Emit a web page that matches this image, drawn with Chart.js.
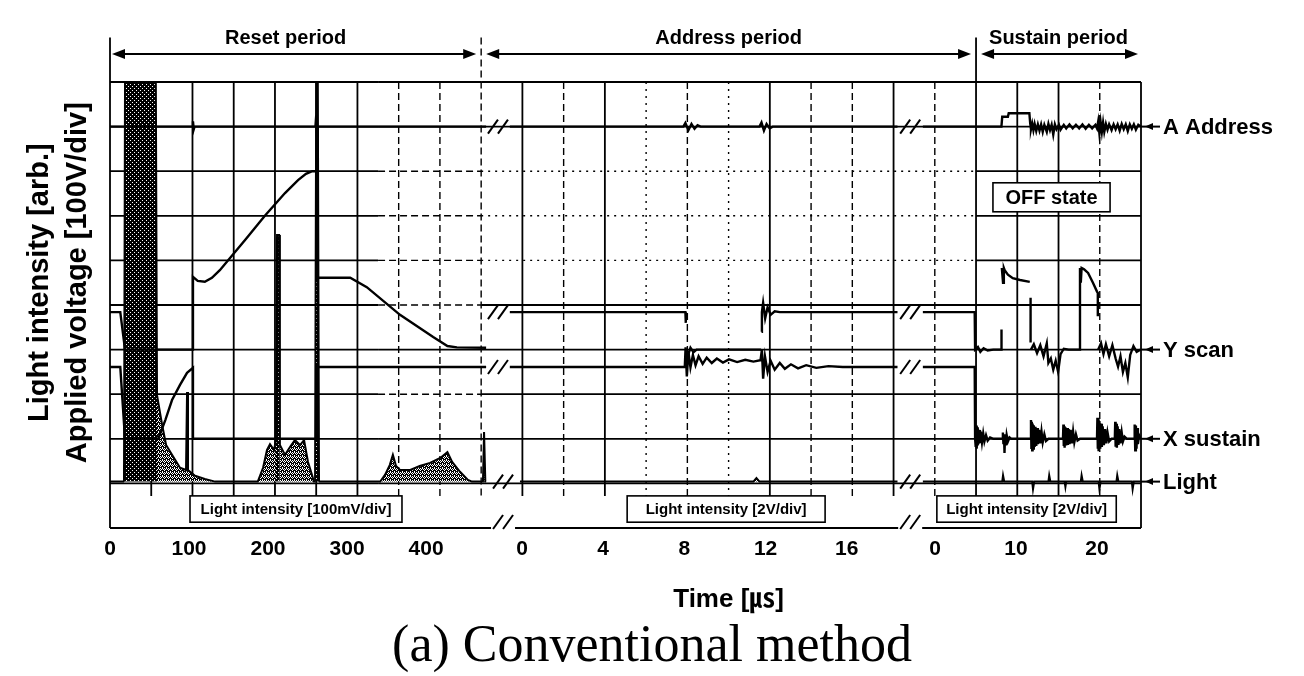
<!DOCTYPE html>
<html>
<head>
<meta charset="utf-8">
<title>(a) Conventional method</title>
<script src="https://cdn.jsdelivr.net/npm/chart.js@4.4.1/dist/chart.umd.min.js"></script>
<style>
html,body{margin:0;padding:0;background:#fff;}
#box{width:1304px;height:676px;position:relative;}
</style>
</head>
<body>
<div id="box"><canvas id="chart" width="1304" height="676"></canvas></div>
<script>
// ===================== DATA =====================
// Tick labels of the three time bases (µs)
const resetTicks   = [0, 100, 200, 300, 400];
const addressTicks = [0, 4, 8, 12, 16];
const sustainTicks = [0, 10, 20];

const traceNames  = ['A Address', 'Y scan', 'X sustain', 'Light'];
const periodNames = ['Reset period', 'Address period', 'Sustain period'];
const scaleNotes  = ['Light intensity [100mV/div]', 'Light intensity [2V/div]', 'Light intensity [2V/div]'];
const stateNote   = 'OFF state';

// Each series: [time µs, value]; electrode traces in volts, light in divisions.
// null = part of an edge the scope did not capture.
// ---- Reset period ----
const resetA = [[0,0],[104,0],[105,12],[106,-6],[107,0],[260,0],[261,25],[262,-20],[263,0],[476,0]];
const resetY = [[0,84],[13,84],[19,0],[105,0],[105,163],[111,154],[120,152],[129,161],[139,178],[149,199],
  [172,248],[196,300],[221.5,351],[238,380],[248,394],[256,400],[261,400],[261,161],[304,161],[325,140],
  [367,78],[409,28],[427,8],[439,5],[476,4]];
const resetX = [[0,161],[13,161],[19,0],[61,0],[70,42],[78.5,87],[88.6,121],[97.5,148],[105,159],[105,0],
  [261,0],[261,161],[476,161]];
const resetLight = [[0,0],[17.7,0],[19,8.96],[58,8.96],[59.5,1.94],[66,1.27],[71,0.82],[78.5,0.6],[88.6,0.31],
  [96.2,0.26],[97.5,2.01],[98.7,0.26],[107.6,0.13],[120,0.06],[133,0],[187,0],[193.7,0.31],[198.7,0.71],
  [202.5,0.84],[207.6,0.71],[210,0.93],[211.4,5.53],[214,5.53],[215,0.82],[221.5,0.6],[228,0.78],[234,0.93],
  [240.5,0.82],[245.6,0.93],[250.6,0.44],[255.7,0.15],[258,0],[259.5,0],[261,8.96],[263,8.96],[264.5,0],
  [342,0],[348,0.15],[354,0.37],[358,0.6],[362,0.35],[367,0.26],[380,0.26],[392,0.35],[405,0.42],[418,0.53],
  [427,0.66],[433,0.44],[443,0.22],[453,0.04],[458,0],[472,0],[473.4,1.11],[475,0],[476,0]];

// ---- Address period ----
const addrA = [[-0.6,0],[7.95,0],[8.05,8],[8.2,-8],[8.35,6],[8.5,-5],[8.65,3],[8.8,0],[11.7,0],[11.8,9],
  [11.92,-9],[12.05,6],[12.2,-4],[12.35,0],[18.5,0]];
const addrY = [[-0.6,84],[8.05,84],[8.07,60],[8.08,null],[8.1,-3],[8.2,-10],[8.3,4],[8.45,-6],[8.6,0],[11.78,0],
  [11.79,null],[11.8,40],[11.82,84],[11.88,105],[11.98,70],[12.1,95],[12.25,78],[12.45,86],[12.7,84],[18.5,84]];
const addrX = [[-0.6,161],[8.02,161],[8.06,205],[8.12,140],[8.2,195],[8.3,160],[8.42,188],[8.55,165],
  [8.7,185],[8.9,168],[9.1,182],[9.35,170],[9.6,180],[9.9,171],[10.2,178],[10.6,172],[11.0,177],[11.4,173],
  [11.75,176],[11.82,200],[11.88,135],[11.97,185],[12.1,150],[12.25,175],[12.45,155],[12.7,170],[12.95,157],
  [13.25,167],[13.6,158],[14.0,165],[14.5,159],[15.1,163],[15.8,161],[18.5,161]];
const addrLight = [[-0.1,0],[11.4,0],[11.55,0.08],[11.7,0],[18.5,0]];

// ---- Sustain period ----
const susA = [[-1.5,0],[8.2,0],[8.3,22],[9.0,22],[9.1,30],[11.65,30],[11.75,8],[11.85,-6],[12.0,7],[12.15,-8],
  [12.3,6],[12.5,-10],[12.7,5],[12.9,-9],[13.1,5],[13.3,-12],[13.5,4],[13.8,-12],[14.0,6],[14.2,-8],[14.4,4],
  [14.6,-18],[14.8,5],[15.0,-6],[15.3,4],[15.5,-7],[15.9,4],[16.2,-4],[16.6,5],[17.0,-4],[17.4,4],[17.8,-4],
  [18.2,5],[18.6,-5],[19.0,4],[19.4,-4],[19.8,4],[20.0,-4],[20.15,12],[20.3,-16],[20.45,10],[20.6,-12],
  [20.75,9],[20.9,-12],[21.1,6],[21.3,-7],[21.5,5],[21.8,-8],[22.05,5],[22.3,-6],[22.55,5],[22.8,-9],
  [23.05,6],[23.3,-6],[23.55,5],[23.8,-10],[24.05,5],[24.3,-5],[24.55,5],[24.8,-7],[25.1,4],[25.4,0]];
const susY = [[-1.5,84],[4.9,84],[4.95,0],[5.3,6],[5.6,-5],[6.0,3],[6.5,-2],[7.2,0],[8.2,0],[8.21,45],
  [8.22,null],[8.25,183],[8.4,150],[8.5,183],[8.6,178],[9.0,168],[9.6,160],[10.5,156],[11.7,152],[11.72,null],
  [11.8,116],[11.8,16],[11.82,null],[11.85,0],[12.2,12],[12.6,-8],[13.0,10],[13.4,-15],
  [13.8,14],[14.0,-30],[14.3,-20],[14.6,-45],[14.9,-25],[15.2,-50],[15.5,-10],[15.9,2],[16.5,0],[17.85,0],
  [17.9,183],[18.0,150],[18.1,183],[18.4,180],[18.9,172],[19.5,150],[20.0,130],[20.1,127],[20.1,75],
  [20.12,null],[20.15,0],[20.5,14],[20.8,-10],
  [21.1,12],[21.5,-15],[21.9,10],[22.3,-20],[22.6,-38],[22.9,-15],[23.2,-50],[23.5,-30],[23.8,-62],
  [24.1,-12],[24.5,8],[24.9,-5],[25.4,0]];
const susX = [[-1.5,161],[4.9,161],[4.95,0],[5.0,28],[5.05,-18],[5.1,30],[5.15,-22],[5.2,26],[5.25,-15],
  [5.3,24],[5.35,-12],[5.45,20],[5.55,-10],[5.65,16],[5.8,-8],[5.95,12],[6.1,-6],[6.3,8],[6.5,-4],[6.8,3],
  [7.2,0],[8.3,0],[8.38,14],[8.45,-12],[8.52,10],[8.58,-32],[8.65,8],[8.75,-15],[8.85,8],[9.0,-6],[9.2,3],
  [9.4,0],[11.8,0],[11.85,42],[11.9,-20],[11.95,38],[12.0,-26],[12.05,34],[12.1,-22],[12.2,30],[12.3,-18],
  [12.4,27],[12.5,-16],[12.6,24],[12.7,-12],[12.85,20],[13.0,-10],[13.15,16],[13.3,-8],[13.5,10],[13.7,-5],
  [14.0,0],[15.8,0],[15.85,32],[15.9,-16],[15.95,28],[16.0,-20],[16.1,26],[16.2,-15],[16.3,24],[16.4,-14],
  [16.5,22],[16.6,-12],[16.75,20],[16.9,-10],[17.05,16],[17.2,-8],[17.4,10],[17.6,-4],[17.9,0],[20.0,0],
  [20.05,47],[20.1,-22],[20.15,44],[20.2,-28],[20.3,40],[20.4,-22],[20.5,34],[20.6,-18],[20.7,28],
  [20.85,-14],[21.0,22],[21.15,-10],[21.3,14],[21.5,-6],[21.8,0],[22.2,0],[22.25,38],[22.3,-18],[22.35,34],
  [22.45,-20],[22.55,28],[22.65,-14],[22.75,22],[22.9,-10],[23.05,14],[23.2,-6],[23.4,5],[23.7,0],[24.6,0],
  [24.65,32],[24.72,-26],[24.8,30],[24.88,-22],[24.95,24],[25.05,-12],[25.2,8],[25.4,0]];
const susLight = [[-1.5,0],[8.3,0],[8.4,0.14],[8.55,0],[12.0,0],[12.1,-0.17],[12.25,0],[14.0,0],[14.1,0.14],
  [14.25,0],[16.0,0],[16.1,-0.12],[16.2,0],[18.0,0],[18.1,0.14],[18.25,0],[20.2,0],[20.3,-0.17],[20.45,0],
  [22.4,0],[22.5,0.14],[22.65,0],[24.3,0],[24.4,-0.17],[24.55,0],[25.4,0]];

// ===================== LAYOUT / STYLE CONFIG =====================
const INK = '#000';
const SANS = '"Liberation Sans", Arial, sans-serif';
// time base of each panel on the 25-division screen: division = d0 + t*k
const PANELS = [
  {d0: 0,      k: 0.01916, ticks: resetTicks},
  {d0: 9.99,   k: 0.4922,  ticks: addressTicks},
  {d0: 20.005, k: 0.1964,  ticks: sustainTicks}
];
const BOUNDS = [[0, 9], [9, 21], [21, 25]];
const TRACES = [
  {name: traceNames[0], ground: 9,    perDiv: 100, sets: [resetA, addrA, susA]},
  {name: traceNames[1], ground: 4,    perDiv: 100, sets: [resetY, addrY, susY]},
  {name: traceNames[2], ground: 2,    perDiv: 100, sets: [resetX, addrX, susX]},
  {name: traceNames[3], ground: 1.04, perDiv: 1,   sets: [resetLight, addrLight, susLight], fill: true}
];
const ZONES = [[0, 6.5], [6.5, 9], [9, 21], [21, 25]];
const H_STYLE = {10:'SSSS', 9:'SSSS', 8:'SDTS', 7:'SDTS', 6:'SDTS', 5:'SDSS', 4:'SSSS', 3:'SDSS', 2:'SSSS', 1:'SSSS'};
const V_STYLE = 'SSSSSSSDDDSDSTDTSDDSDSSSDS';
const NOTE_BOXES = [[1.94, 7.08], [12.54, 17.34], [20.05, 24.4]];
const STATE_BOX = {x0: 21.41, x1: 24.25, y0: 7.74, y1: 7.09};

const mapPt = (panel, ground, perDiv) => ([t, v]) =>
  ({x: PANELS[panel].d0 + t * PANELS[panel].k, y: v === null ? null : ground + v / perDiv});

function stipple(white) {
  const c = document.createElement('canvas'); c.width = 4; c.height = 4;
  const g = c.getContext('2d');
  g.fillStyle = '#000'; g.fillRect(0, 0, 4, 4);
  g.fillStyle = '#fff';
  white.forEach(([a, b]) => g.fillRect(a, b, 1, 1));
  return g.createPattern(c, 'repeat');
}
const DARK = stipple([[2, 0], [0, 2]]);
const MEDIUM = stipple([[0, 0], [2, 0], [1, 1], [3, 1], [0, 2], [2, 3]]);

const datasets = [];
TRACES.forEach(tr => {
  tr.sets.forEach((arr, p) => {
    const ds = {
      label: tr.name,
      data: arr.map(mapPt(p, tr.ground, tr.perDiv)),
      borderColor: INK,
      borderWidth: tr.fill ? 2 : 2.4,
      pointRadius: 0,
      tension: 0,
      spanGaps: false,
      fill: tr.fill ? {value: tr.ground} : false,
      backgroundColor: tr.fill ? MEDIUM : INK,
      order: tr.fill ? 5 : 0
    };
    if (tr.fill) {
      ds.segment = {backgroundColor: c => Math.max(c.p0.parsed.y, c.p1.parsed.y) > tr.ground + 4 ? DARK : MEDIUM};
    }
    datasets.push(ds);
  });
});

const X_TICKS = [];
PANELS.forEach(p => p.ticks.forEach(t => X_TICKS.push({d: p.d0 + t * p.k, label: String(t)})));

function seg(ctx, x1, y1, x2, y2, st) {
  ctx.beginPath();
  ctx.lineWidth = st === 'S' ? 1.8 : 1.4;
  ctx.setLineDash(st === 'D' ? [7, 4] : st === 'T' ? [2, 5] : []);
  ctx.moveTo(x1, y1); ctx.lineTo(x2, y2); ctx.stroke();
}
function head(ctx, tipX, y, dir, len, half) {
  ctx.beginPath(); ctx.moveTo(tipX, y);
  ctx.lineTo(tipX + dir * len, y - half); ctx.lineTo(tipX + dir * len, y + half);
  ctx.closePath(); ctx.fill();
}
function breakMark(ctx, xm, ym) {
  ctx.setLineDash([]); ctx.lineWidth = 2;
  [-5, 5].forEach(o => { ctx.beginPath(); ctx.moveTo(xm + o - 5, ym + 7); ctx.lineTo(xm + o + 5, ym - 7); ctx.stroke(); });
}
const firstVal = arr => arr.find(p => p[1] !== null);

const scopePlugin = {
  id: 'scope',
  beforeDatasetsDraw(chart) {
    const {ctx, scales: {x, y}} = chart;
    const X = d => x.getPixelForValue(d), Y = v => y.getPixelForValue(v);
    ctx.save(); ctx.strokeStyle = INK;
    for (let lv = 1; lv <= 10; lv++) {
      ZONES.forEach((z, i) => seg(ctx, X(z[0]), Y(lv), X(z[1]), Y(lv), H_STYLE[lv][i]));
    }
    for (let d = 0; d <= 25; d++) {
      let top = 10, bot = 0.72;
      if (d === 0) { top = 11; bot = 0; }
      if (d === 25) bot = 0;
      if (d === 9 || d === 21) top = 11;
      seg(ctx, X(d), Y(top), X(d), Y(bot), V_STYLE[d]);
    }
    ctx.restore();
  },
  afterDatasetsDraw(chart) {
    const {ctx, scales: {x, y}, chartArea} = chart;
    const X = d => x.getPixelForValue(d), Y = v => y.getPixelForValue(v);
    ctx.save();
    ctx.strokeStyle = INK; ctx.fillStyle = INK;
    // bottom frame with breaks
    const light = TRACES[3];
    const brk = [0, 1].map(p => {
      const a = light.sets[p][light.sets[p].length - 1], b = firstVal(light.sets[p + 1]);
      return (PANELS[p].d0 + a[0] * PANELS[p].k + PANELS[p + 1].d0 + b[0] * PANELS[p + 1].k) / 2;
    });
    seg(ctx, X(0), Y(0), X(brk[0]) - 12, Y(0), 'S');
    seg(ctx, X(brk[0]) + 12, Y(0), X(brk[1]) - 12, Y(0), 'S');
    seg(ctx, X(brk[1]) + 12, Y(0), X(25), Y(0), 'S');
    brk.forEach(b => breakMark(ctx, X(b), Y(0) - 6));
    // break marks on every trace
    TRACES.forEach(tr => {
      for (let p = 0; p < 2; p++) {
        const a = tr.sets[p][tr.sets[p].length - 1], b = firstVal(tr.sets[p + 1]);
        const xa = X(PANELS[p].d0 + a[0] * PANELS[p].k), xb = X(PANELS[p + 1].d0 + b[0] * PANELS[p + 1].k);
        breakMark(ctx, (xa + xb) / 2, Y(tr.ground + b[1] / tr.perDiv));
      }
    });
    // note boxes
    ctx.setLineDash([]); ctx.lineWidth = 1.6;
    ctx.textAlign = 'center'; ctx.textBaseline = 'middle';
    NOTE_BOXES.forEach((bx, i) => {
      const x0 = X(bx[0]), x1 = X(bx[1]), y0 = Y(0.72), y1 = Y(0.13);
      ctx.fillStyle = '#fff'; ctx.fillRect(x0, y0, x1 - x0, y1 - y0);
      ctx.strokeRect(x0, y0, x1 - x0, y1 - y0);
      ctx.fillStyle = INK; ctx.font = 'bold 15px ' + SANS;
      ctx.fillText(scaleNotes[i], (x0 + x1) / 2, (y0 + y1) / 2 + 1);
    });
    {
      const x0 = X(STATE_BOX.x0), x1 = X(STATE_BOX.x1), y0 = Y(STATE_BOX.y0), y1 = Y(STATE_BOX.y1);
      ctx.fillStyle = '#fff'; ctx.fillRect(x0, y0, x1 - x0, y1 - y0);
      ctx.strokeRect(x0, y0, x1 - x0, y1 - y0);
      ctx.fillStyle = INK; ctx.font = 'bold 20px ' + SANS;
      ctx.fillText(stateNote, (x0 + x1) / 2, (y0 + y1) / 2 + 1);
    }
    // period headers
    const ay = Y(10.63);
    ctx.lineWidth = 2;
    BOUNDS.forEach((b, i) => {
      const x0 = X(b[0]) + (i === 0 ? 2 : 5), x1 = X(b[1]) - (i === 2 ? 3 : 5);
      ctx.beginPath(); ctx.moveTo(x0 + 6, ay); ctx.lineTo(x1 - 6, ay); ctx.stroke();
      head(ctx, x0, ay, 1, 13, 5); head(ctx, x1, ay, -1, 13, 5);
      ctx.font = 'bold 20px ' + SANS;
      ctx.fillText(periodNames[i], (X(b[0]) + X(b[1])) / 2 - (i === 0 ? 10 : 0), Y(11) + 1);
    });
    // right-hand trace labels
    ctx.textAlign = 'left';
    TRACES.forEach(tr => {
      const yy = Y(tr.ground), xr = X(25);
      ctx.lineWidth = 2; ctx.beginPath(); ctx.moveTo(xr, yy); ctx.lineTo(xr + 19, yy); ctx.stroke();
      head(ctx, xr + 4, yy, 1, 8, 3.5);
      ctx.font = 'bold 22px ' + SANS;
      ctx.fillText(tr.name, xr + 22, yy + 1);
    });
    // time axis title
    ctx.textAlign = 'center';
    ctx.font = 'bold 26px ' + SANS + ', "Noto Sans CJK JP"';
    ctx.fillText('Time [㎲]', X(15), chartArea.bottom + 72);
    ctx.restore();
  }
};

new Chart(document.getElementById('chart'), {
  type: 'line',
  data: {datasets},
  plugins: [scopePlugin],
  options: {
    responsive: false,
    animation: false,
    devicePixelRatio: 1,
    layout: {padding: {left: 0, right: 0, top: 37.4, bottom: 0}},
    plugins: {
      legend: {display: false},
      tooltip: {enabled: false},
      title: {
        display: true, position: 'bottom', text: '(a) Conventional method', color: INK,
        font: {family: '"Liberation Serif", "Times New Roman", serif', size: 52, weight: 'normal', lineHeight: 1.1},
        padding: {top: 2, bottom: 0}
      }
    },
    scales: {
      x: {
        type: 'linear', min: 0, max: 25, position: 'bottom',
        grid: {display: false, drawTicks: false}, border: {display: false},
        afterBuildTicks: s => { s.ticks = X_TICKS.map(t => ({value: t.d})); },
        afterFit: s => { s.height = 88.8; },
        ticks: {
          autoSkip: false, maxRotation: 0, minRotation: 0, padding: 9, color: INK,
          font: {family: SANS, size: 21, weight: 'bold'},
          callback: (v, i) => X_TICKS[i] ? X_TICKS[i].label : ''
        }
      },
      y: {
        type: 'linear', min: 0, max: 11,
        grid: {display: false}, border: {display: false}, ticks: {display: false},
        afterFit: s => { s.width = 110; },
        title: {
          display: true, color: INK,
          text: ['Light intensity [arb.]', 'Applied voltage [100V/div]'],
          font: {family: SANS, size: 29, weight: 'bold', lineHeight: 1.31},
          padding: {top: 21, bottom: 0}
        }
      },
      yRight: {
        type: 'linear', axis: 'y', position: 'right', display: true, min: 0, max: 11,
        grid: {display: false}, border: {display: false}, ticks: {display: false},
        afterFit: s => { s.width = 163; }
      }
    }
  }
});
</script>
</body>
</html>
